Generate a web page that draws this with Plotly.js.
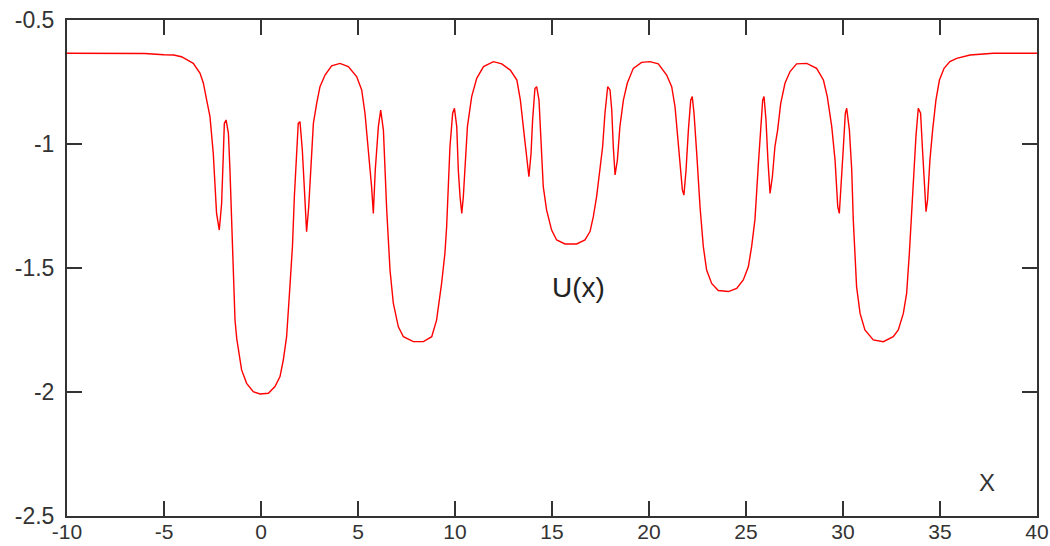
<!DOCTYPE html>
<html>
<head>
<meta charset="utf-8">
<script src="https://cdn.plot.ly/plotly-3.0.1.min.js"></script>
<style>html,body{margin:0;padding:0;background:#fff;}#chart{width:1050px;height:546px;}</style>
</head>
<body>
<div id="chart"></div>
<script>
// Values
const xValues = [
-10, -8, -6, -5, -4.5, -4.1, -3.83, -3.49, -3.14, -2.97, -2.80, -2.63, -2.46, -2.37, -2.29, -2.15, -2.03, -1.94, -1.89, -1.80,
-1.68, -1.60, -1.51, -1.43, -1.34, -1.25, -1.17, -1.00, -0.74, -0.40, -0.05, 0.38, 0.72, 0.98, 1.15, 1.32, 1.49, 1.62, 1.72, 1.84, 1.92,
2.01, 2.13, 2.23, 2.35, 2.46, 2.56, 2.70, 2.87, 3.04, 3.30, 3.64, 4.07, 4.50, 4.93, 5.19, 5.36, 5.53, 5.70, 5.79, 5.89,
6.05, 6.17, 6.31, 6.39, 6.48, 6.65, 6.82, 7.08, 7.34, 7.85, 8.37, 8.80, 9.05, 9.31, 9.48, 9.57, 9.66, 9.74, 9.88, 9.97,
10.09, 10.17, 10.26, 10.35, 10.43, 10.52, 10.64, 10.86, 11.12, 11.47, 11.98, 12.41, 12.85, 13.19, 13.37, 13.54, 13.71, 13.81, 13.92, 14.00,
14.12, 14.21, 14.33, 14.45, 14.55, 14.72, 14.98, 15.24, 15.67, 16.27, 16.70, 16.96, 17.13, 17.30, 17.47, 17.61, 17.73, 17.87, 17.99, 18.08,
18.16, 18.25, 18.37, 18.50, 18.68, 18.88, 19.19, 19.62, 20.05, 20.48, 20.91, 21.17, 21.34, 21.46, 21.60, 21.72, 21.80, 21.91, 22.03, 22.15,
22.23, 22.32, 22.46, 22.63, 22.80, 22.97, 23.23, 23.57, 24.09, 24.52, 24.86, 25.12, 25.29, 25.46, 25.64, 25.76, 25.86, 25.93, 26.03, 26.13,
26.24, 26.36, 26.49, 26.63, 26.79, 27.01, 27.27, 27.61, 28.13, 28.64, 28.99, 29.19, 29.42, 29.59, 29.73, 29.81, 29.93, 30.02, 30.12, 30.19,
30.33, 30.45, 30.53, 30.70, 30.88, 31.13, 31.56, 32.08, 32.59, 32.85, 33.11, 33.28, 33.42, 33.54, 33.66, 33.76, 33.88, 34.00, 34.09, 34.17,
34.28, 34.36, 34.48, 34.62, 34.79, 34.97, 35.21, 35.51, 35.86, 36.55, 37.75, 40
];
const uValues = [
-0.634, -0.634, -0.635, -0.640, -0.641, -0.648, -0.661, -0.675, -0.715, -0.755, -0.823, -0.890, -1.038, -1.172, -1.280, -1.347, -1.240, -1.038, -0.917, -0.903,
-0.957, -1.105, -1.306, -1.508, -1.710, -1.785, -1.830, -1.911, -1.965, -1.999, -2.008, -2.005, -1.978, -1.938, -1.871, -1.777, -1.575, -1.414, -1.212, -1.024, -0.917,
-0.910, -1.024, -1.172, -1.354, -1.253, -1.118, -0.917, -0.836, -0.769, -0.722, -0.685, -0.675, -0.688, -0.728, -0.782, -0.876, -1.011, -1.172, -1.280, -1.105,
-0.930, -0.863, -0.944, -1.105, -1.266, -1.508, -1.642, -1.737, -1.777, -1.797, -1.797, -1.777, -1.710, -1.562, -1.441, -1.333, -1.185, -1.011, -0.876, -0.856,
-0.930, -1.105, -1.212, -1.280, -1.212, -1.091, -0.930, -0.809, -0.735, -0.688, -0.668, -0.677, -0.702, -0.742, -0.823, -0.944, -1.078, -1.132, -1.038, -0.903,
-0.776, -0.769, -0.823, -1.011, -1.172, -1.266, -1.347, -1.387, -1.403, -1.403, -1.387, -1.353, -1.293, -1.212, -1.105, -1.011, -0.876, -0.769, -0.782, -0.863,
-1.011, -1.125, -1.065, -0.930, -0.823, -0.755, -0.695, -0.671, -0.668, -0.677, -0.722, -0.769, -0.849, -0.957, -1.091, -1.185, -1.206, -1.105, -0.944, -0.823,
-0.809, -0.876, -1.038, -1.253, -1.414, -1.508, -1.562, -1.591, -1.595, -1.582, -1.548, -1.495, -1.414, -1.306, -1.078, -0.917, -0.823, -0.809, -0.903, -1.065,
-1.199, -1.132, -1.011, -0.944, -0.836, -0.755, -0.708, -0.677, -0.675, -0.695, -0.742, -0.809, -0.930, -1.065, -1.253, -1.280, -1.145, -1.011, -0.876, -0.856,
-0.944, -1.105, -1.306, -1.575, -1.683, -1.750, -1.790, -1.797, -1.777, -1.750, -1.683, -1.602, -1.441, -1.266, -1.105, -0.970, -0.856, -0.876, -1.011, -1.145,
-1.273, -1.226, -1.065, -0.944, -0.823, -0.742, -0.695, -0.668, -0.655, -0.641, -0.634, -0.634
];
const xTickVals = [-10, -5, 0, 5, 10, 15, 20, 25, 30, 35, 40];
const xTickText = ["-10", "-5", "0", "5", "10", "15", "20", "25", "30", "35", "40"];
const yTickVals = [-2.5, -2, -1.5, -1, -0.5];
const yTickText = ["-2.5", "-2", "-1.5", "-1", "-0.5"];
const curveLabel = "U(x)";
const axisLabel = "X";

const trace = {
  x: xValues, y: uValues, type: 'scatter', mode: 'lines',
  line: {color: '#ff0000', width: 1.4, shape: 'linear'},
  hoverinfo: 'skip', showlegend: false
};

const axisCommon = {
  showgrid: false, zeroline: false, showline: true, linecolor: '#333', linewidth: 2,
  mirror: 'ticks', ticks: 'inside', ticklen: 15, tickwidth: 2, tickcolor: '#333',
  tickfont: {family: 'Liberation Sans, Arial, sans-serif', size: 23, color: '#333'},
  fixedrange: true
};

const layout = {
  width: 1050, height: 546,
  margin: {l: 67, r: 13, t: 20, b: 30, pad: 0},
  paper_bgcolor: '#fff', plot_bgcolor: '#fff',
  xaxis: Object.assign({}, axisCommon, {range: [-10, 40], tickmode: 'array', tickvals: xTickVals, ticktext: xTickText,
    ticklabelstandoff: -4, tickfont: {family: 'Liberation Sans, Arial, sans-serif', size: 21, color: '#333'}}),
  yaxis: Object.assign({}, axisCommon, {range: [-2.5, -0.5], tickmode: 'array', tickvals: yTickVals, ticktext: yTickText, ticklabelstandoff: 6}),
  annotations: [
    {x: 16.34, y: -1.58, xref: 'x', yref: 'y', text: curveLabel, showarrow: false,
     font: {family: 'Liberation Sans, Arial, sans-serif', size: 28, color: '#222'}},
    {x: 37.42, y: -2.363, xref: 'x', yref: 'y', text: axisLabel, showarrow: false,
     font: {family: 'Liberation Sans, Arial, sans-serif', size: 24, color: '#333'}}
  ]
};

Plotly.newPlot('chart', [trace], layout, {displayModeBar: false, staticPlot: true});
</script>
</body>
</html>
